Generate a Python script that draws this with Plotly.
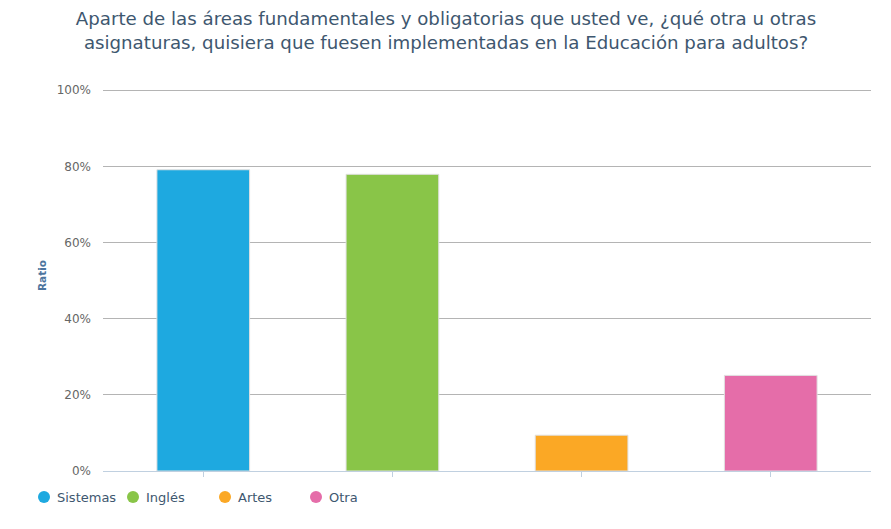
import plotly.graph_objects as go

categories = ["Sistemas", "Inglés", "Artes", "Otra"]
values = [79.1, 77.9, 9.4, 25.1]
colors = ["#1EA9E0", "#89C548", "#FBA825", "#E56DA9"]
y_ticks = [0, 20, 40, 60, 80, 100]
y_tick_labels = ["0%", "20%", "40%", "60%", "80%", "100%"]
title_text = ("Aparte de las áreas fundamentales y obligatorias que usted ve, ¿qué otra u otras<br>"
              "asignaturas, quisiera que fuesen implementadas en la Educación para adultos?")
y_title = "Ratio"

# the page body adds an 8px offset; the figure is sized/positioned to compensate
OFF = 8
W, H = 891 - OFF, 529 - OFF
L, R, T, B = 103 - OFF, 891 - 871, 89 - OFF, 529 - 471
PW, PH = W - L - R, H - T - B


def px_x(p):
    return (p - OFF - L) / PW


def px_y(p):
    return (H - B - (p - OFF)) / PH


fig = go.Figure()
for cat, val, col in zip(categories, values, colors):
    fig.add_trace(go.Bar(
        x=[cat], y=[val], name=cat, marker=dict(color=col, line=dict(color="#E0E0E0", width=1)),
        width=0.49, showlegend=False, hoverinfo="y"))

# legend (drawn manually to match the reference spacing)
legend_x = [44, 133, 225, 316]
legend_y = 497
for cat, col, lx in zip(categories, colors, legend_x):
    fig.add_shape(type="circle", xref="paper", yref="paper",
                  xsizemode="pixel", ysizemode="pixel",
                  xanchor=px_x(lx), yanchor=px_y(legend_y),
                  x0=-6, x1=6, y0=-6, y1=6,
                  fillcolor=col, line=dict(width=0))
    fig.add_annotation(text=cat, xref="paper", yref="paper",
                       x=px_x(lx + 11), y=px_y(legend_y), xanchor="left", yanchor="middle",
                       showarrow=False, font=dict(size=13, color="#3E576F", family="DejaVu Sans"))

# y axis title
fig.add_annotation(text="<b>" + y_title + "</b>", xref="paper", yref="paper",
                   x=px_x(42), y=px_y(276), xanchor="center", yanchor="middle",
                   textangle=-90, showarrow=False,
                   font=dict(size=10.5, color="#4D759E", family="DejaVu Sans"))

fig.update_layout(
    width=W, height=H,
    margin=dict(l=L, r=R, t=T, b=B, autoexpand=False),
    paper_bgcolor="white", plot_bgcolor="white",
    font=dict(family="DejaVu Sans", color="#3E576F"),
    title=dict(text=title_text, x=(446 - OFF) / W, xanchor="center", xref="container",
               y=1 - (25 - OFF) / H, yanchor="middle", yref="container",
               font=dict(size=18.2, color="#3E576F", family="DejaVu Sans")),
    barmode="overlay",
    showlegend=False,
    xaxis=dict(type="category", categoryorder="array", categoryarray=categories,
               showticklabels=False, ticks="outside", ticklen=5, tickcolor="#C0D0E0",
               showline=True, linecolor="#C0D0E0", linewidth=1, showgrid=False,
               range=[-0.53, 3.53], fixedrange=True),
    yaxis=dict(range=[0, 100.3], tickvals=y_ticks, ticktext=y_tick_labels,
               showgrid=True, gridcolor="#B4B4B4", gridwidth=1, zeroline=False,
               tickfont=dict(size=12, color="#666666"), ticks="", ticklabelstandoff=11,
               fixedrange=True),
)

fig.write_html("out.html")
